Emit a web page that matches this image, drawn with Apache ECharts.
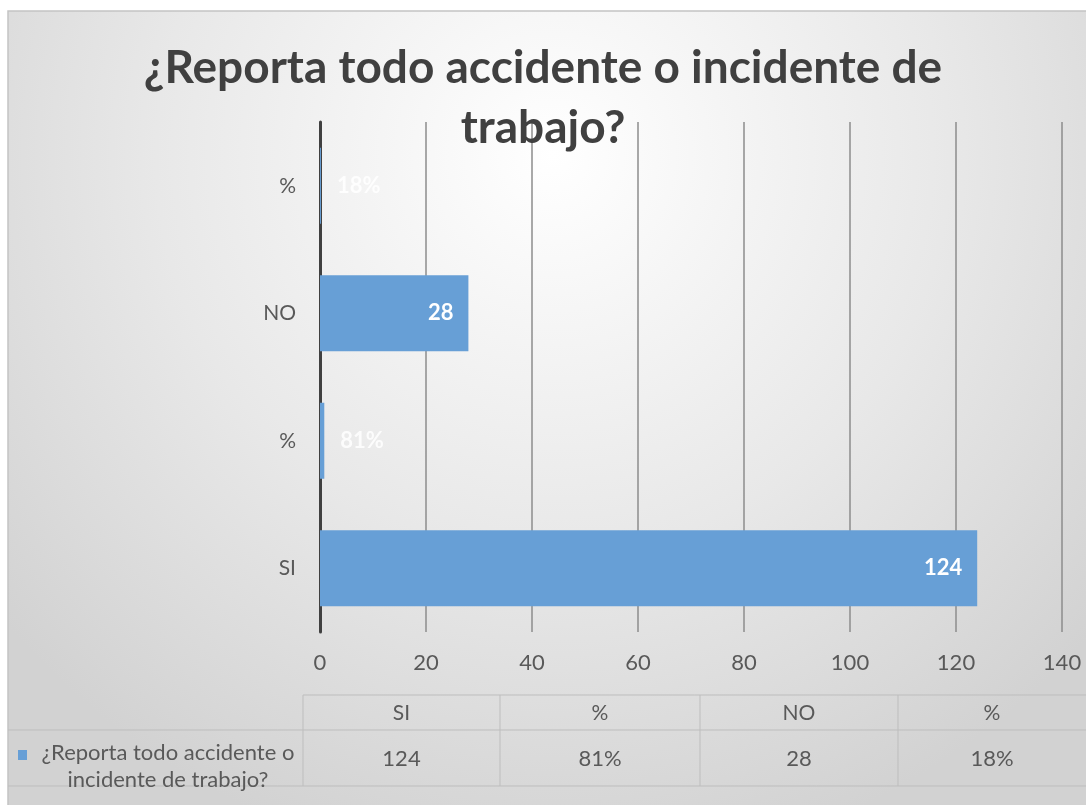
<!DOCTYPE html>
<html>
<head>
<meta charset="utf-8">
<script src="https://cdn.jsdelivr.net/npm/echarts@6/dist/echarts.min.js"></script>
<style>
  html, body { margin: 0; padding: 0; background: #fff; }
  #chart { width: 1086px; height: 805px; }
</style>
</head>
<body>
<div id="chart"></div>
<script>
// datos del gráfico (de abajo hacia arriba)
const categories = ['SI', '%', 'NO', '%'];
const values = [124, 0.81, 28, 0.18];
const valueLabels = ['124', '81%', '28', '18%'];
const xTicks = [0, 20, 40, 60, 80, 100, 120, 140];
const seriesName = '¿Reporta todo accidente o incidente de trabajo?';

const FONT = 'Lato, "Open Sans", sans-serif';
const GREY_TEXT = '#595959';
const BAR = '#679fd6';

// tabla de datos bajo el gráfico
const colEdges = [303, 500, 700, 898, 1086];
const rowTop = 695, rowMid = 730, rowBot = 786;

const tableGraphics = [];
// líneas de la tabla
const line = (x1, y1, x2, y2) => ({
  type: 'line', silent: true,
  shape: { x1, y1, x2, y2 },
  style: { stroke: '#bdbdbd', lineWidth: 1 }
});
tableGraphics.push(line(colEdges[0], rowTop, 1086, rowTop));
tableGraphics.push(line(8, rowMid, 1086, rowMid));
tableGraphics.push(line(8, rowBot, 1086, rowBot));
colEdges.slice(0, 4).forEach(x => tableGraphics.push(line(x, rowTop, x, rowBot)));

categories.forEach((c, i) => {
  const cx = (colEdges[i] + colEdges[i + 1]) / 2;
  tableGraphics.push({
    type: 'text', silent: true, x: cx, y: (rowTop + rowMid) / 2 + 1,
    style: { text: c, fill: GREY_TEXT, font: '21px ' + FONT, align: 'center', verticalAlign: 'middle' }
  });
  tableGraphics.push({
    type: 'text', silent: true, x: cx, y: (rowMid + rowBot) / 2 + 1,
    style: { text: valueLabels[i], fill: GREY_TEXT, font: '22px ' + FONT, align: 'center', verticalAlign: 'middle' }
  });
});
// leyenda de la tabla
tableGraphics.push({
  type: 'rect', silent: true,
  shape: { x: 18, y: 750, width: 9, height: 10 },
  style: { fill: BAR }
});
tableGraphics.push({
  type: 'text', silent: true, x: 168, y: 766,
  style: {
    text: '¿Reporta todo accidente o\nincidente de trabajo?',
    fill: GREY_TEXT, font: '22px ' + FONT, align: 'center', verticalAlign: 'middle', lineHeight: 27
  }
});

const chart = echarts.init(document.getElementById('chart'), null, { renderer: 'canvas' });

chart.setOption({
  backgroundColor: '#ffffff',
  animation: false,
  title: {
    text: '¿Reporta todo accidente o incidente de\ntrabajo?',
    left: 'center',
    top: 33,
    textStyle: { fontFamily: FONT, fontSize: 46, fontWeight: 'bold', color: '#404040', lineHeight: 60 }
  },
  graphic: [
    {
      type: 'rect', silent: true, z: -10,
      shape: { x: 8, y: 11, width: 1090, height: 800 },
      style: {
        fill: {
          type: 'radial', x: 0.5, y: 0.18, r: 0.9,
          colorStops: [
            { offset: 0, color: '#ffffff' },
            { offset: 0.55, color: '#e8e8e8' },
            { offset: 1, color: '#d2d2d2' }
          ]
        },
        stroke: '#c4c4c4', lineWidth: 1.5
      }
    },
    ...tableGraphics
  ],
  grid: { left: 320, right: 24, top: 122, bottom: 173 },
  xAxis: {
    type: 'value',
    min: xTicks[0],
    max: xTicks[xTicks.length - 1],
    interval: 20,
    axisLine: { show: false },
    axisTick: { show: false },
    axisLabel: { color: GREY_TEXT, fontFamily: FONT, fontSize: 22, margin: 20 },
    splitLine: { lineStyle: { color: '#8c8c8c', width: 1.5 } }
  },
  yAxis: {
    type: 'category',
    data: categories,
    axisLine: { lineStyle: { color: '#404040', width: 3 } },
    axisTick: { show: false },
    axisLabel: { color: GREY_TEXT, fontFamily: FONT, fontSize: 21, margin: 24 }
  },
  series: [{
    name: seriesName,
    type: 'bar',
    barWidth: 76,
    data: values.map(v => ({
      value: v,
      label: v < 5
        ? { position: 'right', distance: 16, color: 'rgba(255,255,255,0.85)' }
        : { position: 'insideRight', distance: 15 }
    })),
    itemStyle: { color: BAR },
    label: {
      show: true,
      color: '#ffffff',
      fontFamily: FONT,
      fontWeight: 'bold',
      fontSize: 22,
      formatter: p => valueLabels[p.dataIndex]
    }
  }]
});
</script>
</body>
</html>
